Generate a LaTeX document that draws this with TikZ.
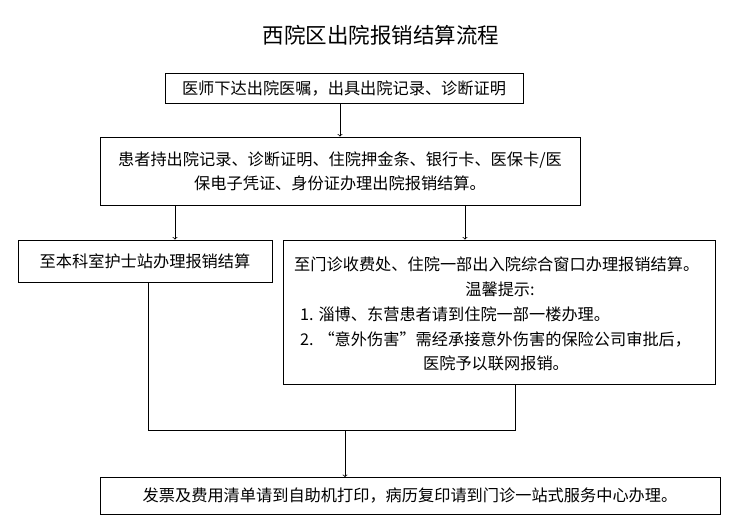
\documentclass[tikz,border=0pt]{standalone}
\usepackage{fontspec}
\setmainfont{Noto Sans CJK SC}
\usetikzlibrary{positioning}
\tikzset{
  stepbox/.style={draw=black, line width=0.8pt, inner sep=0pt, font=\fontsize{16.2}{24}\selectfont},
  txt/.style={inner sep=0pt, font=\fontsize{16.2}{24}\selectfont},
  flow/.style={line width=0.8pt, ->, color=black},
}
\begin{document}
\begin{tikzpicture}[x=1pt, y=1pt]
\useasboundingbox (0,0) rectangle (735,-525);
\node (title) [txt, font=\fontsize{21.5}{26}\selectfont] at (381,-35) {西院区出院报销结算流程};
\node (order) [stepbox, minimum width=358pt, minimum height=30pt] at (344,-88) {医师下达出院医嘱，出具出院记录、诊断证明};
\node (docs) [stepbox, minimum width=480pt, minimum height=68pt, align=center] at (340,-171) {患者持出院记录、诊断证明、住院押金条、银行卡、医保卡/医\\保电子凭证、身份证办理出院报销结算。};
\node (ward) [stepbox, minimum width=254pt, minimum height=42pt] at (145,-261) {至本科室护士站办理报销结算};
\node (desk) [stepbox, minimum width=432pt, minimum height=144pt] at (499,-312) {};
\node (d1) [txt, anchor=west] at (294,-264) {至门诊收费处、住院一部出入院综合窗口办理报销结算。};
\node (d2) [txt] at (500,-289) {温馨提示:};
\node (d3) [txt, anchor=west] at (300,-314) {1. 淄博、东营患者请到住院一部一楼办理。};
\node (d4) [txt, anchor=west] at (300,-339) {2. “意外伤害”需经承接意外伤害的保险公司审批后，};
\node (d5) [txt] at (496,-363) {医院予以联网报销。};
\node (print) [stepbox, minimum width=620pt, minimum height=37pt] at (410,-496) {发票及费用清单请到自助机打印，病历复印请到门诊一站式服务中心办理。};
\coordinate (join) at (345,-430);
\draw [flow] (order.south -| 340,0) -- (docs.north -| 340,0);
\draw [flow] (docs.south -| 175,0) -- (ward.north -| 175,0);
\draw [flow] (docs.south -| 465,0) -- (desk.north -| 465,0);
\draw [line width=0.8pt] (ward.south -| 148,0) |- (join);
\draw [line width=0.8pt] (desk.south -| 515,0) |- (join);
\draw [flow] (join) -- (print.north -| 345,0);
\end{tikzpicture}
\end{document}
